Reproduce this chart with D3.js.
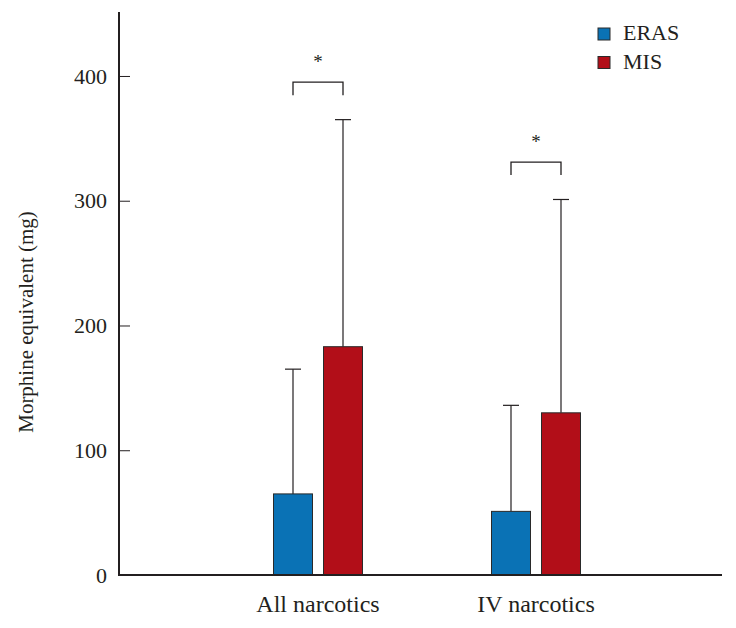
<!DOCTYPE html>
<html>
<head>
<meta charset="utf-8">
<script src="https://cdn.jsdelivr.net/npm/d3@7"></script>
<style>
  html, body { margin: 0; padding: 0; background: #fff; }
  svg { display: block; }
  text { font-family: "Liberation Serif", "Times New Roman", serif; fill: #231f20; }
</style>
</head>
<body>
<svg id="chart" width="736" height="628"></svg>
<script>
// ---- data ----
const categories = ["All narcotics", "IV narcotics"];
const series = ["ERAS", "MIS"];
const erasMean = [65, 51];
const misMean = [183, 130];
const erasSD = [100, 85];
const misSD = [182, 171];
const significance = ["*", "*"];
const yTicks = [0, 100, 200, 300, 400];
const seriesColors = ["#0a72b5", "#b20e18"];

// ---- layout ----
const svg = d3.select("#chart");
const axisX = 119, baseY = 575, axisTop = 12, axisRight = 722;

const y = d3.scaleLinear().domain([0, 450]).range([baseY, 13.6]);
const x0 = d3.scaleBand().domain(categories).range([209, 645]);
const x1 = d3.scaleBand().domain(series).range([-45, 45]).paddingInner(0.2);
const color = d3.scaleOrdinal().domain(series).range(seriesColors);

const rows = categories.map((c, i) => ({
  cat: c,
  vals: [
    { s: "ERAS", m: erasMean[i], sd: erasSD[i] },
    { s: "MIS", m: misMean[i], sd: misSD[i] }
  ],
  sig: significance[i]
}));

const cx = (cat, s) => x0(cat) + x0.bandwidth() / 2 + x1(s) + x1.bandwidth() / 2;

// bars
const g = svg.append("g");
rows.forEach(r => {
  r.vals.forEach(v => {
    const bx = x0(r.cat) + x0.bandwidth() / 2 + x1(v.s);
    const top = y(v.m + v.sd);
    const c = cx(r.cat, v.s);
    // error bar
    g.append("line").attr("x1", c).attr("x2", c).attr("y1", y(v.m)).attr("y2", top)
      .attr("stroke", "#231f20").attr("stroke-width", 1.2);
    g.append("line").attr("x1", c - 8).attr("x2", c + 8).attr("y1", top).attr("y2", top)
      .attr("stroke", "#231f20").attr("stroke-width", 1.2);
    g.append("rect")
      .attr("x", bx + 0.5).attr("y", y(v.m))
      .attr("width", x1.bandwidth() - 1).attr("height", baseY - y(v.m))
      .attr("fill", color(v.s)).attr("stroke", "#2a2a2a").attr("stroke-width", 1);
  });
  // significance bracket
  const maxTop = d3.max(r.vals, v => v.m + v.sd) + 30;
  const by = y(maxTop);
  const xa = cx(r.cat, "ERAS"), xb = cx(r.cat, "MIS");
  g.append("path")
    .attr("d", `M${xa},${by + 13}V${by}H${xb}V${by + 13}`)
    .attr("fill", "none").attr("stroke", "#231f20").attr("stroke-width", 1.3);
  g.append("text").attr("x", (xa + xb) / 2).attr("y", by - 14)
    .attr("text-anchor", "middle").attr("font-size", 19).attr("fill", "#111").text(r.sig);
});

// y axis
const yAxis = d3.axisRight(y).tickValues(yTicks).tickSize(11).tickFormat(d3.format("d"));
const ya = svg.append("g").attr("transform", `translate(${axisX},0)`).call(yAxis);
ya.select(".domain").remove();
ya.selectAll(".tick line").attr("stroke", "#231f20").attr("stroke-width", 1);
ya.selectAll(".tick text").attr("x", -12).attr("text-anchor", "end")
  .attr("font-size", 22).attr("font-family", "Liberation Serif").attr("fill", "#231f20")
  .attr("dy", "0.33em");

// axis lines
svg.append("line").attr("x1", axisX).attr("x2", axisX).attr("y1", axisTop).attr("y2", baseY + 1)
  .attr("stroke", "#231f20").attr("stroke-width", 2);
svg.append("line").attr("x1", axisX - 1).attr("x2", axisRight).attr("y1", baseY).attr("y2", baseY)
  .attr("stroke", "#231f20").attr("stroke-width", 2);

// x labels
const xAxis = d3.axisBottom(x0).tickSize(0).tickPadding(0);
const xa = svg.append("g").attr("transform", `translate(0,${baseY})`).call(xAxis);
xa.select(".domain").remove();
xa.selectAll(".tick text").attr("y", 37).attr("dy", 0)
  .attr("font-size", 24).attr("font-family", "Liberation Serif").attr("fill", "#231f20");

// y title
svg.append("text")
  .attr("transform", `translate(33,${322}) rotate(-90)`)
  .attr("text-anchor", "middle").attr("font-size", 21)
  .text("Morphine equivalent (mg)");

// legend
const lg = svg.append("g");
series.forEach((s, i) => {
  lg.append("rect").attr("x", 598).attr("y", 28 + i * 28.5).attr("width", 12).attr("height", 12)
    .attr("fill", color(s)).attr("stroke", "#2a2a2a").attr("stroke-width", 1);
  lg.append("text").attr("x", 623).attr("y", 40 + i * 29).attr("font-size", 22).text(s);
});
</script>
</body>
</html>
